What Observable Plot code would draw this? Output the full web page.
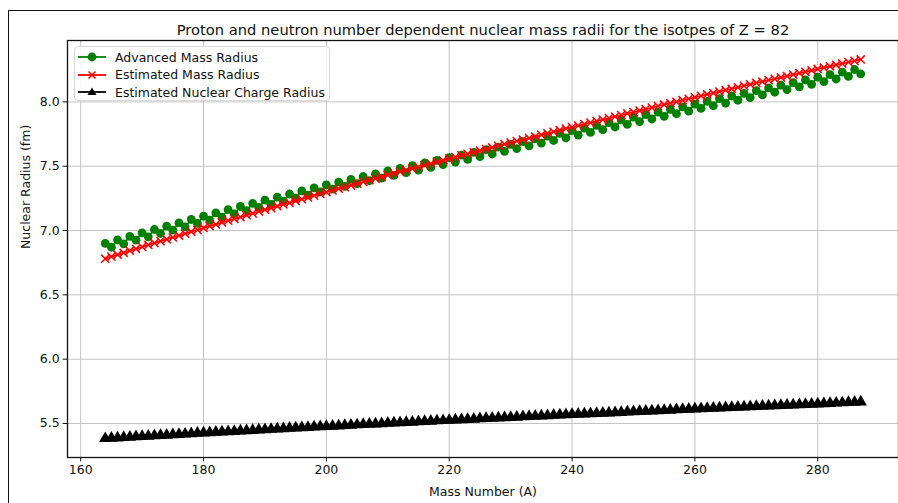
<!DOCTYPE html>
<html>
<head>
<meta charset="utf-8">
<script src="https://cdn.jsdelivr.net/npm/d3@7"></script>
<script src="https://cdn.jsdelivr.net/npm/@observablehq/plot@0.6"></script>
<style>
  html, body { margin: 0; padding: 0; background: #fff; }
  body { width: 898px; height: 503px; overflow: hidden; position: relative; font-family: "DejaVu Sans", sans-serif; }
  #sheet { position: absolute; left: 8px; top: 10px; width: 900px; height: 500px; border: 1.3px solid #111; box-sizing: border-box; }
  #chart { position: absolute; left: 0; top: 0; }
  #legend { position: absolute; left: 74px; top: 46px; width: 256px; height: 55px; box-sizing: border-box;
            border: 1px solid #d9d9d9; border-radius: 4px; background: rgba(255,255,255,0.85); font-size: 12.5px; color: #111; }
  .row { position: absolute; left: 2px; height: 18px; display: flex; align-items: center; }
  .row svg { margin-right: 8px; }
</style>
</head>
<body>
<div id="sheet"></div>
<div id="chart"></div>
<div id="legend"></div>
<script>
// Mass numbers of the Z = 82 isotopes
const massNumbers = d3.range(164, 288);

// Advanced mass radius (fm), A = 164 … 287
const advancedMassRadius = [
  6.901, 6.870, 6.928, 6.897, 6.955, 6.925, 6.982, 6.951, 7.008, 6.977,
  7.034, 7.003, 7.060, 7.029, 7.086, 7.055, 7.112, 7.081, 7.137, 7.105,
  7.162, 7.130, 7.187, 7.155, 7.211, 7.180, 7.236, 7.204, 7.260, 7.228,
  7.284, 7.252, 7.308, 7.276, 7.332, 7.300, 7.355, 7.322, 7.377, 7.344,
  7.398, 7.365, 7.420, 7.387, 7.441, 7.408, 7.463, 7.429, 7.483, 7.450,
  7.504, 7.470, 7.525, 7.491, 7.545, 7.512, 7.566, 7.532, 7.587, 7.553,
  7.608, 7.574, 7.628, 7.595, 7.649, 7.616, 7.670, 7.637, 7.691, 7.658,
  7.712, 7.679, 7.734, 7.700, 7.755, 7.721, 7.776, 7.742, 7.797, 7.763,
  7.818, 7.784, 7.839, 7.805, 7.860, 7.826, 7.881, 7.847, 7.901, 7.867,
  7.921, 7.888, 7.942, 7.908, 7.962, 7.928, 7.983, 7.949, 8.004, 7.970,
  8.025, 7.991, 8.046, 8.013, 8.067, 8.034, 8.088, 8.055, 8.109, 8.075,
  8.130, 8.096, 8.150, 8.117, 8.171, 8.137, 8.192, 8.158, 8.212, 8.178,
  8.232, 8.198, 8.252, 8.218
];

// Estimated mass radius (fm)
const estimatedMassRadius = [
  6.781, 6.797, 6.812, 6.827, 6.843, 6.858, 6.873, 6.888, 6.903, 6.917,
  6.932, 6.947, 6.961, 6.976, 6.991, 7.005, 7.020, 7.034, 7.048, 7.063,
  7.077, 7.091, 7.105, 7.119, 7.133, 7.148, 7.162, 7.175, 7.189, 7.203,
  7.216, 7.230, 7.244, 7.257, 7.271, 7.285, 7.298, 7.312, 7.325, 7.338,
  7.351, 7.365, 7.378, 7.391, 7.404, 7.417, 7.431, 7.444, 7.456, 7.469,
  7.482, 7.495, 7.508, 7.520, 7.533, 7.546, 7.559, 7.571, 7.584, 7.596,
  7.608, 7.621, 7.633, 7.646, 7.658, 7.671, 7.683, 7.695, 7.707, 7.719,
  7.731, 7.743, 7.755, 7.768, 7.780, 7.792, 7.804, 7.816, 7.827, 7.839,
  7.851, 7.863, 7.874, 7.886, 7.898, 7.910, 7.921, 7.933, 7.944, 7.956,
  7.967, 7.978, 7.990, 8.001, 8.013, 8.024, 8.036, 8.047, 8.058, 8.069,
  8.080, 8.091, 8.102, 8.113, 8.125, 8.136, 8.147, 8.158, 8.169, 8.179,
  8.190, 8.201, 8.212, 8.223, 8.234, 8.245, 8.256, 8.266, 8.277, 8.287,
  8.298, 8.309, 8.319, 8.330
];

// Estimated nuclear charge radius (fm)
const estimatedChargeRadius = [
  5.383, 5.386, 5.388, 5.391, 5.394, 5.397, 5.399, 5.402, 5.405, 5.408,
  5.410, 5.413, 5.416, 5.418, 5.421, 5.424, 5.426, 5.429, 5.432, 5.434,
  5.437, 5.439, 5.442, 5.445, 5.447, 5.450, 5.452, 5.455, 5.458, 5.460,
  5.463, 5.465, 5.468, 5.470, 5.473, 5.475, 5.478, 5.480, 5.482, 5.485,
  5.487, 5.490, 5.492, 5.495, 5.497, 5.499, 5.502, 5.504, 5.507, 5.509,
  5.511, 5.514, 5.516, 5.518, 5.521, 5.523, 5.525, 5.528, 5.530, 5.532,
  5.534, 5.537, 5.539, 5.541, 5.544, 5.546, 5.548, 5.550, 5.553, 5.555,
  5.557, 5.559, 5.561, 5.564, 5.566, 5.568, 5.570, 5.572, 5.575, 5.577,
  5.579, 5.581, 5.583, 5.585, 5.587, 5.590, 5.592, 5.594, 5.596, 5.598,
  5.600, 5.602, 5.604, 5.607, 5.609, 5.611, 5.613, 5.615, 5.617, 5.619,
  5.621, 5.623, 5.625, 5.627, 5.629, 5.631, 5.633, 5.635, 5.637, 5.639,
  5.641, 5.643, 5.645, 5.647, 5.649, 5.651, 5.653, 5.655, 5.657, 5.659,
  5.661, 5.663, 5.665, 5.667
];

const xTicks = [160, 180, 200, 220, 240, 260, 280];
const yTicks = [5.5, 6.0, 6.5, 7.0, 7.5, 8.0];

const seriesNames = ["Advanced Mass Radius", "Estimated Mass Radius", "Estimated Nuclear Charge Radius"];
const seriesColors = ["#008000", "#ff0000", "#000000"];

const rows = (values) => massNumbers.map((A, i) => ({A, r: values[i]}));
const adv = rows(advancedMassRadius);
const est = rows(estimatedMassRadius);
const chg = rows(estimatedChargeRadius);

// matplotlib-style 5% padding around the data
const allR = [...advancedMassRadius, ...estimatedMassRadius, ...estimatedChargeRadius];
const [rMin, rMax] = d3.extent(allR);
const [aMin, aMax] = d3.extent(massNumbers);
const padR = (rMax - rMin) * 0.05, padA = (aMax - aMin) * 0.05;

const titleText = "Proton and neutron number dependent nuclear mass radii for the isotpes of Z = 82";

const chart = Plot.plot({
  width: 898,
  height: 503,
  marginLeft: 67,
  marginRight: 0,
  marginTop: 40,
  marginBottom: 46,
  style: {fontFamily: "'DejaVu Sans', sans-serif", fontSize: "12.5px", background: "transparent", color: "#111"},
  x: {domain: [aMin - padA, aMax + padA]},
  y: {domain: [rMin - padR, rMax + padR]},
  marks: [
    Plot.gridX(xTicks, {stroke: "#c4c4c4", strokeOpacity: 1, strokeWidth: 1}),
    Plot.gridY(yTicks, {stroke: "#c4c4c4", strokeOpacity: 1, strokeWidth: 1}),
    Plot.axisX(xTicks, {tickSize: 4.4, tickPadding: 3.5, label: null, fontSize: 12.5}),
    Plot.axisY(yTicks, {tickSize: 4.4, tickPadding: 3.5, label: null, fontSize: 12.5, tickFormat: d3.format(".1f")}),
    // Advanced mass radius
    Plot.line(adv, {x: "A", y: "r", stroke: seriesColors[0], strokeWidth: 1.8}),
    Plot.dot(adv, {x: "A", y: "r", fill: seriesColors[0], r: 4.4, stroke: "none"}),
    // Estimated mass radius
    Plot.line(est, {x: "A", y: "r", stroke: seriesColors[1], strokeWidth: 1.8}),
    Plot.dot(est, {x: "A", y: "r", symbol: "times", stroke: seriesColors[1], r: 3.8, strokeWidth: 1.5}),
    // Estimated nuclear charge radius
    Plot.line(chg, {x: "A", y: "r", stroke: seriesColors[2], strokeWidth: 1.8}),
    Plot.dot(chg, {x: "A", y: "r", symbol: "triangle", fill: seriesColors[2], r: 4.6, stroke: "none"}),
    Plot.frame({stroke: "#111", strokeWidth: 1.3}),
    Plot.text([titleText], {frameAnchor: "top", lineAnchor: "bottom", dy: -6, fontSize: 14.7, fill: "#111"}),
    Plot.text(["Mass Number (A)"], {frameAnchor: "bottom", dy: 38, fontSize: 12.5, fill: "#111"}),
    Plot.text(["Nuclear Radius (fm)"], {frameAnchor: "left", dx: -42, rotate: -90, fontSize: 12.5, fill: "#111"})
  ]
});
document.getElementById("chart").append(chart);

// Legend: line with marker, like the plotted series
const legend = document.getElementById("legend");
const symbols = [
  (c) => `<circle cx="15" cy="7" r="4.4" fill="${c}"/>`,
  (c) => `<path d="M11.5,3.5L18.5,10.5M18.5,3.5L11.5,10.5" stroke="${c}" stroke-width="1.5"/>`,
  (c) => `<path d="M15,2.5L19.5,10L10.5,10Z" fill="${c}"/>`
];
seriesNames.forEach((name, i) => {
  const row = document.createElement("div");
  row.className = "row";
  row.style.top = (1 + i * 17.6) + "px";
  row.innerHTML = `<svg width="30" height="14"><line x1="1" x2="29" y1="7" y2="7" stroke="${seriesColors[i]}" stroke-width="1.8"/>${symbols[i](seriesColors[i])}</svg><span>${name}</span>`;
  legend.append(row);
});
</script>
</body>
</html>
